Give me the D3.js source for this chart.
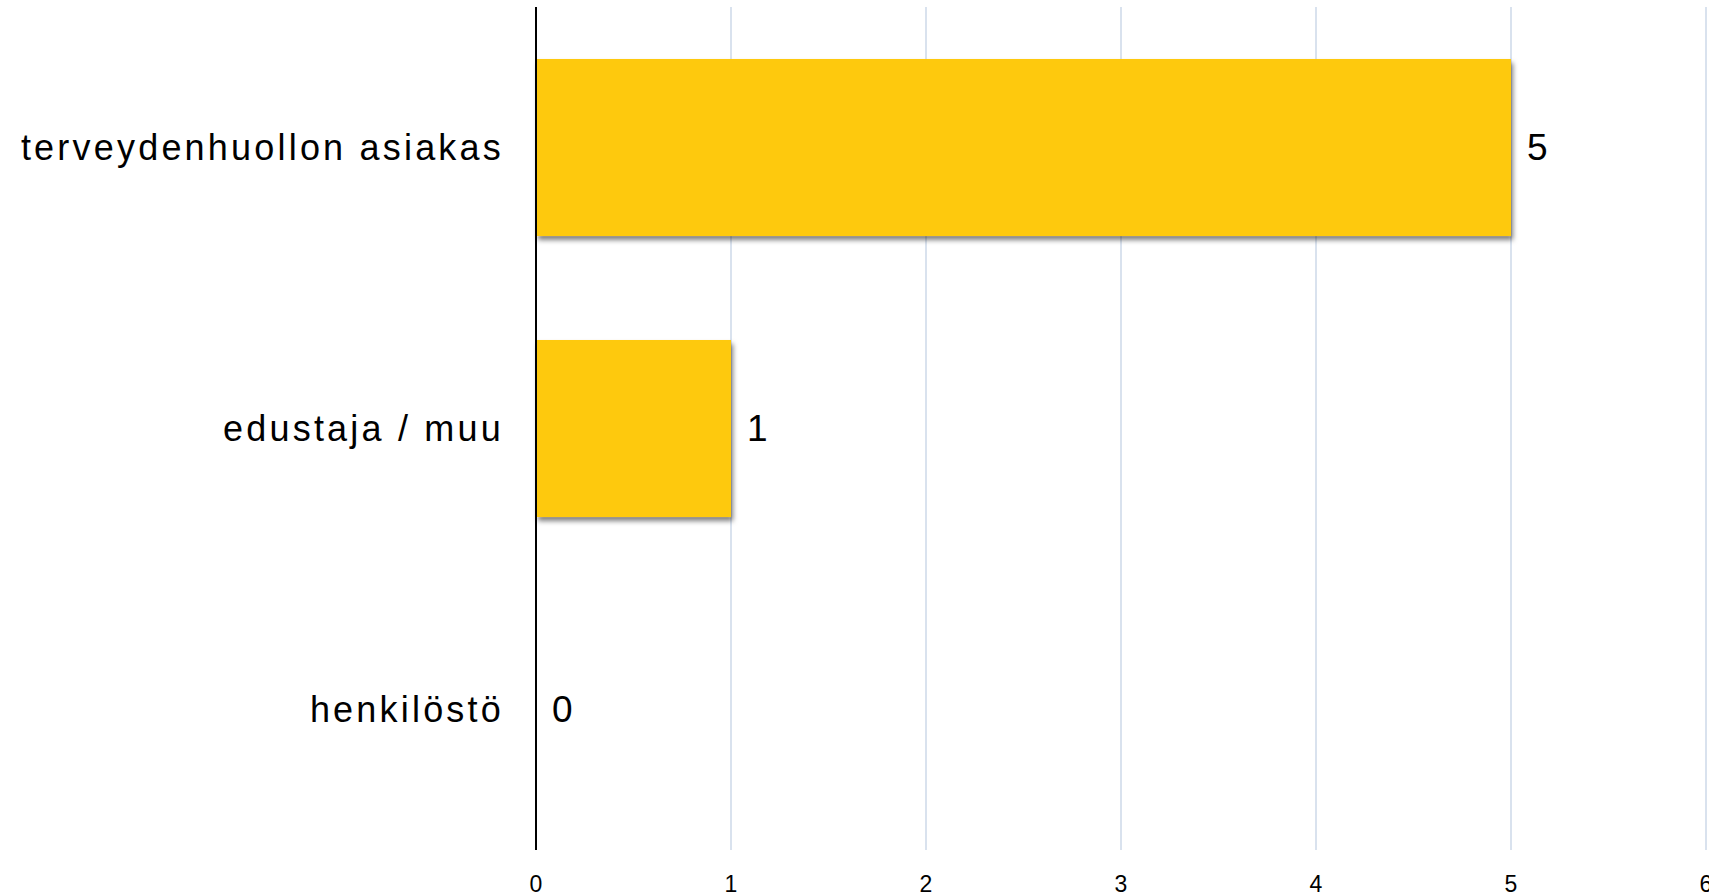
<!DOCTYPE html>
<html>
<head>
<meta charset="utf-8">
<script src="https://cdn.jsdelivr.net/npm/d3@7"></script>
<style>
  html, body { margin: 0; padding: 0; background: #fff; overflow: hidden; }
  svg { display: block; font-family: "Liberation Sans", Arial, sans-serif; }
</style>
</head>
<body>
<svg id="chart"></svg>
<script>
// Data
const categories = ['terveydenhuollon asiakas', 'edustaja / muu', 'henkilöstö'];
const values = [5, 1, 0];
const xTicks = [0, 1, 2, 3, 4, 5, 6];

const width = 1709;
const height = 896;
const margin = { top: 7, right: 3, bottom: 46, left: 536 };

const svg = d3.select('#chart')
  .attr('width', width)
  .attr('height', height)
  .attr('viewBox', `0 0 ${width} ${height}`);

const x = d3.scaleLinear()
  .domain([0, 6])
  .range([margin.left, 1706]);

const y = d3.scaleBand()
  .domain(categories)
  .range([margin.top, height - margin.bottom])
  .paddingInner(0.37)
  .paddingOuter(0.185);

// Bar shadow
const defs = svg.append('defs');
const shadow = defs.append('filter')
  .attr('id', 'barShadow')
  .attr('x', '-5%').attr('y', '-10%')
  .attr('width', '115%').attr('height', '130%');
shadow.append('feDropShadow')
  .attr('dx', 2).attr('dy', 4)
  .attr('stdDeviation', 2.8)
  .attr('flood-color', '#000')
  .attr('flood-opacity', 0.5);

// Grid
svg.append('g')
  .selectAll('line')
  .data(xTicks.filter(d => d > 0))
  .join('line')
  .attr('x1', d => x(d)).attr('x2', d => x(d))
  .attr('y1', margin.top).attr('y2', height - margin.bottom)
  .attr('stroke', '#d9e2ee')
  .attr('stroke-width', 2);

// Bars
svg.append('g')
  .selectAll('rect')
  .data(categories.map((c, i) => ({ cat: c, v: values[i] })).filter(d => d.v > 0))
  .join('rect')
  .attr('x', x(0))
  .attr('y', d => y(d.cat))
  .attr('width', d => x(d.v) - x(0))
  .attr('height', y.bandwidth())
  .attr('fill', '#fec90b')
  .attr('filter', 'url(#barShadow)');

// Value labels
svg.append('g')
  .selectAll('text')
  .data(categories.map((c, i) => ({ cat: c, v: values[i] })))
  .join('text')
  .attr('x', d => x(d.v) + 16)
  .attr('y', d => y(d.cat) + y.bandwidth() / 2)
  .attr('dy', '0.35em')
  .attr('font-size', '37px')
  .attr('fill', '#000')
  .text(d => d.v);

// Category labels
svg.append('g')
  .selectAll('text')
  .data(categories)
  .join('text')
  .attr('x', 504)
  .attr('y', d => y(d) + y.bandwidth() / 2)
  .attr('dy', '0.35em')
  .attr('text-anchor', 'end')
  .attr('font-size', '36px')
  .attr('letter-spacing', '3.2px')
  .attr('fill', '#000')
  .text(d => d);

// X tick labels
svg.append('g')
  .selectAll('text')
  .data(xTicks)
  .join('text')
  .attr('x', d => x(d))
  .attr('y', 884)
  .attr('dy', '0.35em')
  .attr('text-anchor', 'middle')
  .attr('font-size', '23px')
  .attr('fill', '#000')
  .text(d => d);

// Category axis line
svg.append('line')
  .attr('x1', x(0)).attr('x2', x(0))
  .attr('y1', margin.top).attr('y2', height - margin.bottom)
  .attr('stroke', '#000')
  .attr('stroke-width', 2);
</script>
</body>
</html>
